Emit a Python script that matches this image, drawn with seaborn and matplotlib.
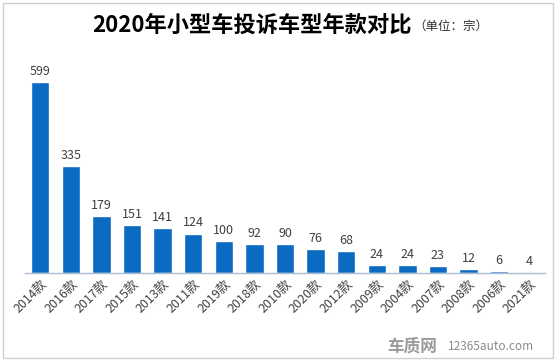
import matplotlib
matplotlib.use("Agg")
import matplotlib.pyplot as plt
import seaborn as sns
import pandas as pd
from matplotlib.patches import Rectangle

categories = ["2014款", "2016款", "2017款", "2015款", "2013款", "2011款", "2019款", "2018款", "2010款",
              "2020款", "2012款", "2009款", "2004款", "2007款", "2008款", "2006款", "2021款"]
values = [599, 335, 179, 151, 141, 124, 100, 92, 90, 76, 68, 24, 24, 23, 12, 6, 4]

sns.set_theme(style="white")
plt.rcParams['font.family'] = ['Noto Sans CJK SC', 'DejaVu Sans']

df = pd.DataFrame({"year": categories, "count": values})

fig = plt.figure(figsize=(5.57, 3.63), dpi=100)
ax = fig.add_axes([25/557, 90/363, 520/557, 207/363])
sns.barplot(data=df, x="year", y="count", color="#0B6BC2", saturation=1, width=0.6, ax=ax)
ax.set_ylim(0, 650)
ax.set_xlim(-0.5, len(categories) - 0.5)
ax.set_xlabel("")
ax.set_ylabel("")
ax.set_yticks([])
for s in ["top", "right", "left"]:
    ax.spines[s].set_visible(False)
ax.spines["bottom"].set_color("#A9BCD0")
ax.spines["bottom"].set_linewidth(1)
ax.tick_params(axis="x", length=0, pad=3)
ax.set_xticks(range(len(categories)))
ax.set_xticklabels(categories, rotation=45, ha="right", rotation_mode="anchor",
                   fontsize=9, color="#404040")
for c in ax.containers:
    ax.bar_label(c, labels=[str(v) for v in values], padding=3, fontsize=9, color="#404040")

t1 = fig.text(92/557, 1 - 25/363, "2020年小型车投诉车型年款对比", ha="left", va="center",
              fontsize=16, fontweight="bold", color="black")
fig.canvas.draw()
bb = t1.get_window_extent(fig.canvas.get_renderer())
fig.text(bb.x1 / 557 + 0.003, 1 - 26/363, "（单位：宗）", ha="left", va="center", fontsize=9, color="#333333")

fig.text(0.695, 0.045, "车质网", ha="left", va="center", fontsize=12, fontweight="bold", color="#9a9a9a")
fig.text(0.805, 0.045, "12365auto.com", ha="left", va="center", fontsize=8.5, color="#8a8a8a")

fig.patches.append(Rectangle((3/557, 5/363), 550/557, 355/363, transform=fig.transFigure,
                             fill=False, edgecolor="#D0D0D0", linewidth=1))

fig.savefig("out.png", dpi=100)
